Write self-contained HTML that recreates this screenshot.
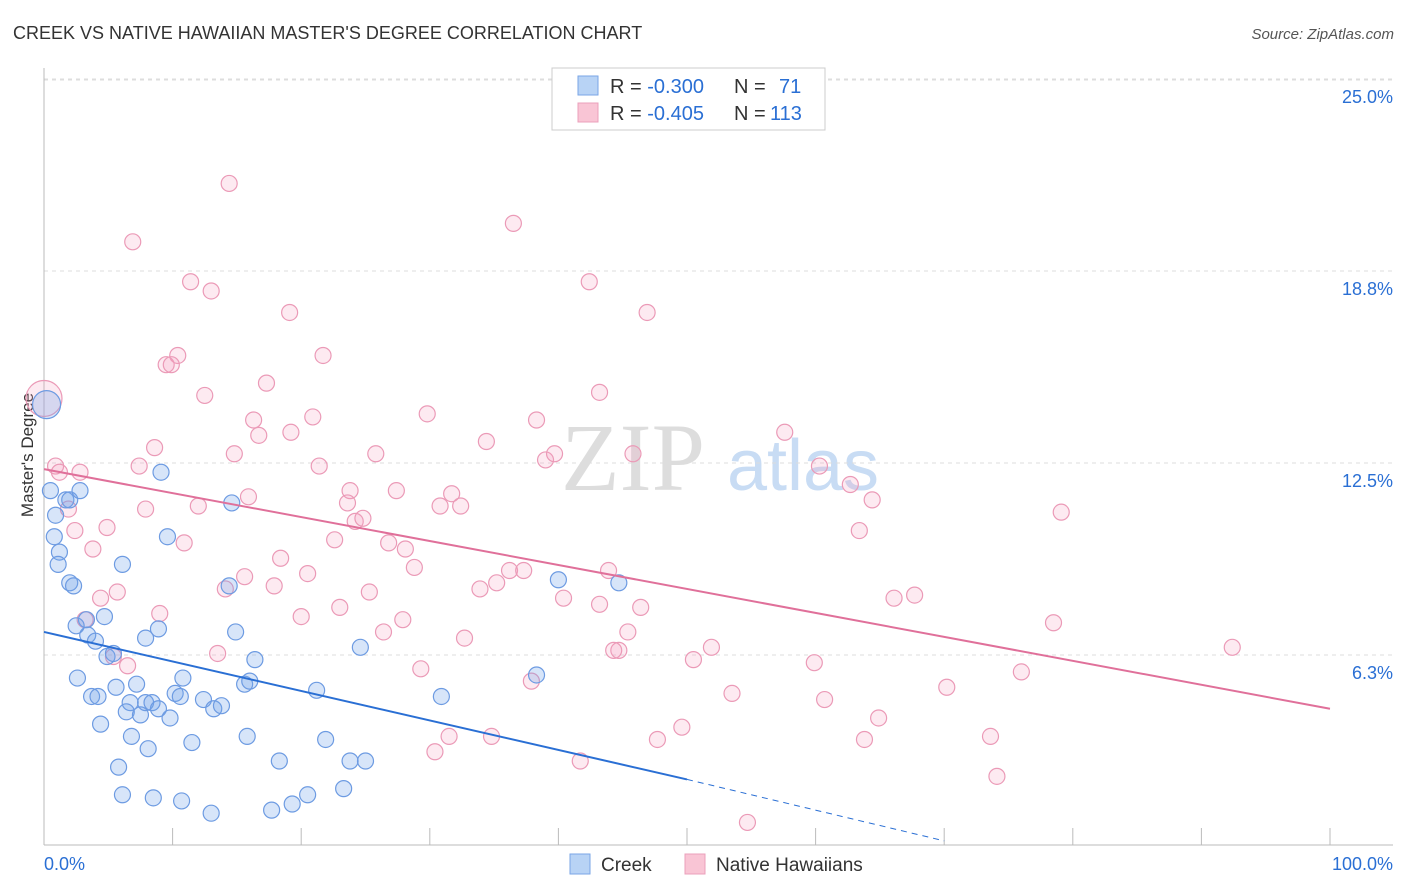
<!DOCTYPE html>
<html><head><meta charset="utf-8">
<style>
body{margin:0;background:#fff;font-family:"Liberation Sans",sans-serif;}
#wrap{position:relative;width:1406px;height:892px;overflow:hidden;}
svg text{font-family:"Liberation Sans",sans-serif;}
</style></head>
<body>
<div id="wrap">
<svg id="chart" width="1406" height="892">
<text x="13" y="39" font-size="18" fill="#333">CREEK VS NATIVE HAWAIIAN MASTER'S DEGREE CORRELATION CHART</text>
<text x="1394" y="39" font-size="15" fill="#555" font-style="italic" text-anchor="end">Source: ZipAtlas.com</text>
<text x="0" y="0" font-size="17" fill="#333" transform="translate(33,455) rotate(-90)" text-anchor="middle">Master's Degree</text>
<g>
<text x="633" y="490" font-size="96" fill="#ddd" text-anchor="middle" style="font-family:'Liberation Serif',serif">ZIP</text>
<text x="803" y="490" font-size="72" fill="#c8dcf4" text-anchor="middle">atlas</text>
</g>
<g id="grid"></g><g id="axes"></g><g id="pts"></g><g id="lines"></g>
<g>
<rect x="552" y="68" width="273" height="62" fill="#fff" stroke="#ccc"/>
<rect x="578" y="76" width="20" height="19" fill="#b8d3f5" stroke="#7aa6e6"/>
<rect x="578" y="103" width="20" height="19" fill="#f9c5d5" stroke="#eba0bb"/>
<text x="610" y="93" font-size="20" fill="#333">R = <tspan fill="#2a6fd4">-0.300</tspan></text>
<text x="734" y="93" font-size="20" fill="#333">N = </text><text x="779" y="93" font-size="20" fill="#2a6fd4">71</text>
<text x="610" y="120" font-size="20" fill="#333">R = <tspan fill="#2a6fd4">-0.405</tspan></text>
<text x="734" y="120" font-size="20" fill="#333">N = </text><text x="770" y="120" font-size="20" fill="#2a6fd4">113</text>
</g>
<g>
<rect x="570" y="854" width="20" height="20" fill="#b8d3f5" stroke="#7aa6e6"/>
<text x="601" y="871" font-size="19" fill="#333">Creek</text>
<rect x="685" y="854" width="20" height="20" fill="#f9c5d5" stroke="#eba0bb"/>
<text x="716" y="871" font-size="19" fill="#333">Native Hawaiians</text>
</g>
</svg>
</div>
<script>
const yTicks=[6.25,12.5,18.75,25];
const yTickLabels=["6.3%","12.5%","18.8%","25.0%"];
const xTicks=[0,10,20,30,40,50,60,70,80,90,100];
const creekX=[0.2,0.5,0.9,0.8,1.2,1.1,1.7,2.0,2.8,2.0,2.3,6.1,9.1,9.6,14.6,14.4,2.6,3.7,4.2,4.4,3.4,4.0,4.7,3.3,2.5,4.9,5.4,5.6,7.2,6.7,6.4,7.5,7.9,8.4,8.9,9.8,6.8,8.1,5.8,6.1,8.5,10.7,13.0,11.5,10.2,10.6,10.8,12.4,13.2,13.8,7.9,8.9,14.9,16.4,15.6,16.0,15.8,18.3,17.7,19.3,20.5,21.2,21.9,23.3,23.8,25.0,24.6,30.9,38.3,40.0,44.7];
const creekY=[14.4,11.6,10.8,10.1,9.6,9.2,11.3,11.3,11.6,8.6,8.5,9.2,12.2,10.1,11.2,8.5,5.5,4.9,4.9,4.0,6.9,6.7,7.5,7.4,7.2,6.2,6.3,5.2,5.3,4.7,4.4,4.3,4.7,4.7,4.5,4.2,3.6,3.2,2.6,1.7,1.6,1.5,1.1,3.4,5.0,4.9,5.5,4.8,4.5,4.6,6.8,7.1,7.0,6.1,5.3,5.4,3.6,2.8,1.2,1.4,1.7,5.1,3.5,1.9,2.8,2.8,6.5,4.9,5.6,8.7,8.6];
const nativeX=[0,0.9,1.2,2.8,1.9,2.4,3.8,4.9,4.4,5.7,3.2,5.4,6.5,6.9,14.4,11.4,13.0,19.1,21.7,10.4,9.5,9.9,12.5,17.3,16.3,20.9,19.2,16.7,8.6,7.4,14.8,7.9,12.0,10.9,15.9,21.4,23.8,23.6,24.2,24.8,22.6,25.8,27.4,26.8,28.1,28.8,29.8,34.4,38.3,39.0,39.7,43.2,42.4,36.5,46.9,45.8,31.7,32.4,30.8,36.2,37.3,35.2,33.9,40.4,43.9,43.2,46.4,45.4,44.7,44.3,32.7,29.3,27.9,26.4,25.3,23.0,20.5,18.4,17.9,15.6,14.1,20.0,13.5,9.0,30.4,31.5,34.8,37.9,41.7,47.7,49.6,50.5,51.9,53.5,54.7,57.6,59.9,60.3,60.7,62.7,63.4,64.4,63.8,64.9,66.1,67.7,70.2,73.6,74.1,76.0,78.5,79.1,92.4];
const nativeY=[14.6,12.4,12.2,12.2,11.0,10.3,9.7,10.4,8.1,8.3,7.4,6.2,5.9,19.7,21.6,18.4,18.1,17.4,16.0,16.0,15.7,15.7,14.7,15.1,13.9,14.0,13.5,13.4,13.0,12.4,12.8,11.0,11.1,9.9,11.4,12.4,11.6,11.2,10.6,10.7,10.0,12.8,11.6,9.9,9.7,9.1,14.1,13.2,13.9,12.6,12.8,14.8,18.4,20.3,17.4,12.8,11.5,11.1,11.1,9.0,9.0,8.6,8.4,8.1,9.0,7.9,7.8,7.0,6.4,6.4,6.8,5.8,7.4,7.0,8.3,7.8,8.9,9.4,8.5,8.8,8.4,7.5,6.3,7.6,3.1,3.6,3.6,5.4,2.8,3.5,3.9,6.1,6.5,5.0,0.8,13.5,6.0,12.4,4.8,11.8,10.3,11.3,3.5,4.2,8.1,8.2,5.2,3.6,2.3,5.7,7.3,10.9,6.5];
const creekTrendX=[0,50,70];
const creekTrendY=[7.0,2.2,0.2];
const nativeTrendX=[0,100];
const nativeTrendY=[12.3,4.5];

const NS="http://www.w3.org/2000/svg";
const X=v=>44+v*12.86;
const Y=v=>847-v*30.72;
function mk(tag,parent,attrs){const e=document.createElementNS(NS,tag);for(const k in attrs)e.setAttribute(k,attrs[k]);parent.appendChild(e);return e;}
const gridG=document.getElementById('grid'),axesG=document.getElementById('axes'),ptsG=document.getElementById('pts'),linesG=document.getElementById('lines');
yTicks.forEach((t,i)=>{
  const l=mk('line',gridG,{x1:44,x2:1393,y1:Y(t),y2:Y(t),stroke:'#ddd','stroke-dasharray':'4,4'});
  
  
  const tx=mk('text',gridG,{x:1393,y:Y(t)+24,'font-size':18,fill:'#2a6fd4','text-anchor':'end'});
  tx.textContent=yTickLabels[i];
  
  
});
const topLine=mk('line',gridG,{x1:44,x2:1393,y1:80,y2:80,stroke:'#ddd','stroke-dasharray':'4,4'});


const ya=mk('line',axesG,{x1:44,x2:44,y1:68,y2:845,stroke:'#bbb'});


const xa=mk('line',axesG,{x1:44,x2:1393,y1:845,y2:845,stroke:'#bbb'});


xTicks.forEach(t=>{
  const l=mk('line',axesG,{x1:X(t),x2:X(t),y1:828,y2:845,stroke:'#bbb'});
  
  
});
const xl0=mk('text',axesG,{x:44,y:870,'font-size':18,fill:'#2a6fd4'});xl0.textContent='0.0%';


const xl1=mk('text',axesG,{x:1393,y:870,'font-size':18,fill:'#2a6fd4','text-anchor':'end'});xl1.textContent='100.0%';



nativeX.forEach((v,i)=>{
  const c=mk('circle',ptsG,{cx:X(v),cy:Y(nativeY[i]),r:i===0?18:8,fill:'rgba(244,160,190,0.22)',stroke:'#eb9ab7','stroke-width':1.2});
  
  
});
creekX.forEach((v,i)=>{
  const c=mk('circle',ptsG,{cx:X(v),cy:Y(creekY[i]),r:i===0?14:8,fill:'rgba(110,160,235,0.28)',stroke:'#6d9be2','stroke-width':1.2});
  
  
});
const b1=mk('line',linesG,{x1:X(creekTrendX[0]),y1:Y(creekTrendY[0]),x2:X(creekTrendX[1]),y2:Y(creekTrendY[1]),stroke:'#2a6fd4','stroke-width':2});


const b2=mk('line',linesG,{x1:X(creekTrendX[1]),y1:Y(creekTrendY[1]),x2:X(creekTrendX[2]),y2:Y(creekTrendY[2]),stroke:'#2a6fd4','stroke-width':1,'stroke-dasharray':'6,5'});


const p1=mk('line',linesG,{x1:X(nativeTrendX[0]),y1:Y(nativeTrendY[0]),x2:X(nativeTrendX[1]),y2:Y(nativeTrendY[1]),stroke:'#e0709a','stroke-width':2});


</script>
</body></html>
